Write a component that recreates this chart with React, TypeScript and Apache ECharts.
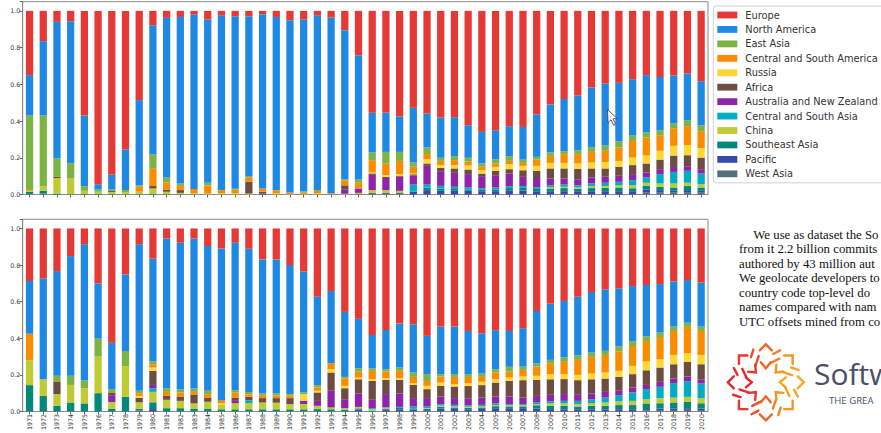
import React, { useEffect, useRef } from 'react';
import * as echarts from 'echarts';

const years = ['1971','1972','1973','1974','1975','1976','1977','1978','1979','1980','1981','1982','1983','1984','1985','1986','1987','1988','1989','1990','1991','1992','1993','1994','1995','1996','1997','1998','1999','2000','2001','2002','2003','2004','2005','2006','2007','2008','2009','2010','2011','2012','2013','2014','2015','2016','2017','2018','2019','2020'];

const yTicks = [0, 0.2, 0.4, 0.6, 0.8, 1.0];

// Regions, listed from the bottom of the stack to its top
const regions = ['West Asia','Pacific','Southeast Asia','China','Central and South Asia','Australia and New Zealand','Africa','Russia','Central and South America','East Asia','North America','Europe'];
const regionColors = ['#546e7a','#3949ab','#00897b','#c0ca33','#00acc1','#8e24aa','#6d4c41','#fdd835','#fb8c00','#7cb342','#1e88e5','#e53935'];

// ---------- top chart ----------
const topWestAsia = [0.003,0.005,0,0,0,0,0,0,0,0, 0,0,0.001,0,0,0,0,0,0,0, 0,0,0,0,0.002,0.009,0.011,0.011,0,0, 0,0,0,0,0,0,0,0,0,0, 0,0,0,0,0,0.01,0.01,0.01,0.01,0.01];
const topPacific = [0,0,0,0,0,0,0,0,0,0, 0,0,0,0,0,0,0,0.005,0,0, 0,0,0,0,0,0,0,0,0.015,0.024, 0.02,0.02,0.02,0.018,0.018,0.023,0.022,0.018,0.018,0.018, 0.018,0.018,0.018,0.018,0.018,0.018,0.014,0.01,0.014,0.01];
const topSoutheastAsia = [0.012,0.015,0.005,0.002,0.003,0.003,0.002,0.002,0.002,0.003, 0.002,0.002,0,0,0,0,0,0,0,0, 0,0,0,0,0,0,0,0,0,0.014, 0.012,0.01,0.008,0.007,0.01,0.012,0.014,0.012,0.015,0.017, 0.014,0.017,0.018,0.02,0.016,0.02,0.018,0.018,0.022,0.018];
const topChina = [0.005,0.025,0.085,0.085,0.017,0.012,0.012,0.012,0.013,0.03, 0.013,0.007,0.005,0.005,0.006,0.006,0.005,0,0.006,0.003, 0.003,0.006,0.002,0.004,0.007,0.015,0.013,0.009,0,0, 0,0,0,0,0,0,0,0,0.007,0.007, 0.006,0.01,0.01,0.012,0.016,0.016,0.018,0.022,0.018,0.018];
const topCentralSouthAsia = [0,0,0,0,0,0,0,0,0,0, 0,0,0,0,0,0,0,0,0,0, 0,0,0,0,0,0,0,0,0.039,0.016, 0.015,0.012,0.01,0.008,0.01,0.01,0.01,0.01,0.01,0.012, 0.012,0.015,0.018,0.019,0.028,0.029,0.051,0.063,0.065,0.058];
const topAustraliaNZ = [0,0,0,0,0,0,0,0,0,0, 0,0,0,0,0,0,0,0,0,0, 0,0,0,0.022,0.024,0.083,0.066,0.077,0.049,0.102, 0.08,0.076,0.073,0.067,0.067,0.069,0.05,0.05,0.037,0.033, 0.033,0.033,0.033,0.033,0.033,0.027,0.027,0.027,0.025,0.024];
const topAfrica = [0,0,0.006,0,0,0,0.005,0,0,0.013, 0.012,0.015,0,0,0,0,0.065,0.01,0,0, 0,0,0,0.024,0,0.008,0.006,0.005,0.007,0.013, 0.018,0.024,0.025,0.014,0.024,0.024,0.036,0.039,0.055,0.055, 0.056,0.049,0.045,0.049,0.049,0.049,0.052,0.062,0.06,0.063];
const topRussia = [0,0,0,0,0,0,0,0,0,0, 0,0,0,0,0,0,0,0,0,0, 0,0,0,0,0,0.005,0.009,0.009,0.004,0.023, 0.015,0.018,0.022,0.018,0.022,0.027,0.024,0.027,0.03,0.03, 0.03,0.032,0.034,0.032,0.041,0.043,0.048,0.053,0.055,0.051];
const topCentralSouthAmerica = [0.005,0,0,0,0,0,0,0,0.027,0.094, 0.038,0.023,0.024,0.044,0.018,0.02,0.024,0.018,0.018,0.008, 0.009,0.013,0.005,0.028,0.031,0.067,0.064,0.072,0.037,0.028, 0.023,0.027,0.022,0.019,0.018,0.018,0.016,0.034,0.038,0.048, 0.051,0.058,0.062,0.073,0.091,0.098,0.085,0.096,0.103,0.093];
const topEastAsia = [0.405,0.385,0.1,0.083,0.025,0.012,0.008,0.01,0.008,0.078, 0.028,0.013,0,0.015,0,0.005,0.006,0,0,0, 0.004,0.005,0,0.005,0.018,0.042,0.063,0.049,0.023,0.036, 0.017,0.022,0.02,0.018,0.023,0.026,0.018,0.015,0.019,0.016, 0.021,0.026,0.029,0.033,0.029,0.029,0.027,0.026,0.033,0.031];
const topNorthAmerica = [0.22,0.405,0.744,0.774,0.385,0.029,0.08,0.221,0.464,0.704, 0.869,0.907,0.95,0.889,0.952,0.94,0.871,0.949,0.943,0.938, 0.937,0.952,0.957,0.812,0.677,0.216,0.214,0.194,0.298,0.185, 0.219,0.212,0.177,0.172,0.158,0.163,0.178,0.231,0.261,0.284, 0.299,0.325,0.337,0.319,0.307,0.311,0.29,0.261,0.254,0.241];
const topEurope = [0.35,0.165,0.06,0.056,0.57,0.944,0.893,0.755,0.486,0.078, 0.038,0.033,0.02,0.047,0.024,0.029,0.029,0.018,0.033,0.051, 0.047,0.024,0.036,0.105,0.241,0.555,0.554,0.574,0.528,0.559, 0.581,0.579,0.623,0.659,0.65,0.628,0.632,0.564,0.51,0.48, 0.46,0.417,0.396,0.392,0.372,0.35,0.36,0.352,0.341,0.383];

// ---------- bottom chart ----------
const botWestAsia = [0,0,0,0,0,0,0,0,0,0, 0,0,0,0,0,0,0,0,0,0, 0,0,0,0,0,0,0,0,0,0, 0,0,0,0,0,0,0,0,0,0, 0,0,0,0,0,0.007,0.008,0.008,0.009,0.008];
const botPacific = [0,0,0,0,0,0,0,0,0.005,0.013, 0,0,0,0,0,0,0,0,0,0, 0,0,0,0,0.01,0,0.01,0.012,0.01,0.007, 0.016,0.014,0.012,0.014,0.018,0.018,0.018,0.016,0.013,0.012, 0.012,0.012,0.012,0.012,0.012,0.006,0.008,0.008,0.009,0.008];
const botSoutheastAsia = [0.144,0.085,0.031,0.049,0.044,0.1,0.016,0.08,0.01,0.037, 0.018,0.018,0.016,0.016,0.012,0.012,0.012,0.012,0.012,0.012, 0.012,0.013,0.012,0.01,0.007,0.005,0.006,0.008,0.007,0.008, 0.01,0.008,0.008,0.008,0.011,0.01,0.01,0.018,0.018,0.019, 0.015,0.019,0.019,0.023,0.023,0.031,0.029,0.033,0.035,0.029];
const botChina = [0.136,0.091,0.064,0.096,0.083,0.2,0.036,0.169,0.035,0.057, 0.046,0.04,0.028,0.037,0.027,0.033,0.033,0.037,0.036,0.028, 0.029,0.018,0.01,0.008,0.008,0.007,0.006,0,0,0.004, 0.006,0.006,0.006,0.006,0.006,0.006,0.006,0.006,0.013,0.013, 0.013,0.014,0.018,0.021,0.023,0.023,0.028,0.027,0.027,0.028];
const botCentralSouthAsia = [0,0,0,0,0,0,0,0,0,0.02, 0,0,0,0,0,0,0.016,0,0,0, 0,0,0,0,0,0.006,0,0.005,0.01,0.008, 0.008,0.008,0.008,0.008,0.009,0.006,0.006,0.009,0.011,0.014, 0.018,0.022,0.027,0.033,0.046,0.055,0.062,0.079,0.085,0.08];
const botAustraliaNZ = [0,0,0,0,0,0,0.037,0,0,0.018, 0,0,0,0,0,0.013,0,0,0,0, 0.018,0.027,0.094,0.049,0.073,0.046,0.073,0.073,0.046,0.046, 0.042,0.037,0.038,0.04,0.038,0.042,0.036,0.036,0.036,0.037, 0.033,0.031,0.031,0.027,0.027,0.023,0.027,0.025,0.026,0.023];
const botAfrica = [0,0,0.069,0,0,0,0.015,0,0.025,0.077, 0.021,0.024,0.049,0.023,0,0.018,0.02,0.024,0.025,0.033, 0,0.046,0.097,0.06,0.078,0.103,0.078,0.075,0.073,0.049, 0.058,0.063,0.067,0.068,0.076,0.085,0.095,0.088,0.085,0.082, 0.08,0.078,0.073,0.073,0.073,0.08,0.078,0.078,0.08,0.082];
const botRussia = [0,0,0,0,0,0,0,0,0.01,0.018, 0,0,0,0,0.006,0,0,0,0,0, 0.036,0.009,0.018,0.013,0.009,0.009,0.009,0.009,0.009,0.018, 0.018,0.013,0.015,0.018,0.018,0.018,0.02,0.022,0.028,0.027, 0.029,0.031,0.033,0.033,0.045,0.048,0.045,0.051,0.047,0.051];
const botCentralSouthAmerica = [0.145,0,0,0,0,0,0,0,0.015,0.018, 0.022,0.022,0.014,0.019,0.017,0.027,0.013,0.016,0.015,0.013, 0,0.018,0.033,0.041,0.033,0.046,0.036,0.04,0.034,0.027, 0.033,0.04,0.035,0.027,0.037,0.033,0.036,0.05,0.06,0.067, 0.082,0.091,0.096,0.107,0.109,0.112,0.122,0.131,0.144,0.131];
const botEastAsia = [0,0,0.031,0.05,0.042,0.098,0.018,0.082,0.013,0.015, 0.02,0.016,0.018,0.018,0,0.013,0.013,0.009,0.01,0.009, 0.009,0.013,0,0.008,0.018,0.014,0.013,0.018,0.024,0.037, 0.013,0.015,0.015,0.018,0.018,0.026,0.018,0.017,0.018,0.024, 0.025,0.024,0.022,0.026,0.026,0.026,0.024,0.024,0.023,0.024];
const botNorthAmerica = [0.288,0.551,0.572,0.654,0.744,0.302,0.253,0.418,0.8,0.562, 0.818,0.802,0.82,0.791,0.829,0.806,0.782,0.733,0.733,0.705, 0.661,0.483,0.394,0.355,0.271,0.182,0.214,0.24,0.263,0.209, 0.26,0.26,0.236,0.22,0.213,0.196,0.21,0.287,0.307,0.309, 0.32,0.331,0.336,0.318,0.301,0.28,0.265,0.247,0.233,0.24];
const botEurope = [0.287,0.273,0.233,0.151,0.087,0.3,0.625,0.251,0.087,0.165, 0.055,0.078,0.055,0.096,0.109,0.078,0.111,0.169,0.169,0.2, 0.235,0.373,0.342,0.456,0.493,0.582,0.555,0.52,0.524,0.587, 0.536,0.536,0.56,0.573,0.556,0.56,0.545,0.451,0.411,0.396, 0.373,0.347,0.333,0.327,0.315,0.309,0.304,0.289,0.282,0.296];

const topSeriesData = [topWestAsia, topPacific, topSoutheastAsia, topChina, topCentralSouthAsia, topAustraliaNZ, topAfrica, topRussia, topCentralSouthAmerica, topEastAsia, topNorthAmerica, topEurope];
const botSeriesData = [botWestAsia, botPacific, botSoutheastAsia, botChina, botCentralSouthAsia, botAustraliaNZ, botAfrica, botRussia, botCentralSouthAmerica, botEastAsia, botNorthAmerica, botEurope];

const paragraphLines = [
  'We use as dataset the So',
  'from it 2.2 billion commits',
  'authored by 43 million aut',
  'We geolocate developers to',
  'country code top-level do',
  'names compared with nam',
  'UTC offsets mined from co',
];

const SANS = "'DejaVu Sans', sans-serif";

function buildLogo(): any[] {
  const cx = 765.8;
  const cy = 382.3;
  const els: any[] = [];
  const lerp = (a: number, b: number, t: number) => Math.round(a + (b - a) * t);
  const colorAt = (ang: number) => {
    const t = (1 + Math.cos(ang)) / 2;
    return `rgb(${lerp(228, 248, t)},${lerp(38, 168, t)},${lerp(45, 35, t)})`;
  };
  const pt = (r: number, ang: number, off: number) => {
    const ux = Math.cos(ang), uy = -Math.sin(ang);
    const px = -uy, py = ux;
    return [cx + ux * r + px * off, cy + uy * r + py * off];
  };
  const stroke = (points: number[][], col: string) => ({
    type: 'polyline', silent: true, shape: { points }, style: { stroke: col, lineWidth: 2.4, fill: null, lineCap: 'round' },
  });
  for (let k = 0; k < 8; k++) {
    const a = (k * Math.PI) / 4;
    const col = colorAt(a);
    // outer chevron pointing outward
    els.push(stroke([pt(32, a, -6), pt(38, a, 0), pt(32, a, 6)], col));
    // inner chevron pointing inward
    els.push(stroke([pt(20, a, -5), pt(14, a, 0), pt(20, a, 5)], col));
    // slashes between neighbouring arms
    const b = a + Math.PI / 8;
    const colb = colorAt(b);
    els.push(stroke([pt(19, b, -3.5), pt(27, b, 3.5)], colb));
    els.push(stroke([pt(29, b, -4), pt(35, b, 1)], colb));
  }
  return els;
}

export default function App() {
  const ref = useRef<HTMLDivElement>(null);

  useEffect(() => {
    document.body.style.margin = '0';
    if (!ref.current) return;
    const chart = echarts.init(ref.current, null, { renderer: 'svg' });

    const yFormatter = (v: number) => {
      for (const t of yTicks) {
        if (Math.abs(v - t) < 1e-6) return t.toFixed(1);
      }
      return '';
    };

    const yAxisBase = (gridIndex: number) => ({
      type: 'value',
      gridIndex,
      min: 0,
      max: 1.05,
      interval: 0.2,
      splitLine: { show: false },
      axisLine: { show: true, lineStyle: { color: '#8a8a8a', width: 1 } },
      axisTick: { show: true, length: 3, lineStyle: { color: '#666' } },
      axisLabel: { formatter: yFormatter, fontSize: 6.3, color: '#333', fontFamily: SANS, margin: 2.5 },
    });

    const series: any[] = [];
    regions.forEach((name, i) => {
      series.push({
        type: 'bar', name, stack: 'top', xAxisIndex: 0, yAxisIndex: 0,
        data: topSeriesData[i], barWidth: '53%',
        itemStyle: { color: regionColors[i] }, emphasis: { disabled: true },
      });
    });
    regions.forEach((name, i) => {
      series.push({
        type: 'bar', name, stack: 'bottom', xAxisIndex: 1, yAxisIndex: 1,
        data: botSeriesData[i], barWidth: '53%',
        itemStyle: { color: regionColors[i] }, emphasis: { disabled: true },
      });
    });

    const graphics: any[] = [];
    paragraphLines.forEach((line, i) => {
      graphics.push({
        type: 'text', silent: true,
        x: i === 0 ? 753.3 : 739, y: 235 + i * 14.45,
        style: { text: line, fill: '#111', fontSize: 12.8, fontFamily: "'Liberation Serif', serif", verticalAlign: 'middle', align: 'left' },
      });
    });
    graphics.push(...buildLogo());
    graphics.push({
      type: 'text', silent: true, x: 814, y: 373.5,
      style: { text: 'Softw', fill: '#4a4e6a', fontSize: 30, fontFamily: "'Open Sans', sans-serif", verticalAlign: 'middle', align: 'left' },
    });
    graphics.push({
      type: 'text', silent: true, x: 829, y: 400.5,
      style: { text: 'THE GREA', fill: '#4a4e6a', fontSize: 9.6, fontFamily: "'Open Sans', sans-serif", verticalAlign: 'middle', align: 'left' },
    });
    // mouse pointer
    graphics.push({
      type: 'polygon', silent: true,
      shape: { points: [[607.5, 109.5], [608, 122.5], [611, 119.8], [613.6, 125.2], [615.6, 124.2], [613, 118.8], [617.2, 118.6]] },
      style: { fill: '#ffffff', stroke: '#333', lineWidth: 0.8 },
      z: 100,
    });

    const option: any = {
      animation: false,
      backgroundColor: '#ffffff',
      grid: [
        { left: 22.7, top: 1.7, width: 685.3, height: 192.8, show: true, borderColor: '#8a8a8a', borderWidth: 1, backgroundColor: 'transparent' },
        { left: 22.7, top: 219.3, width: 685.3, height: 193.2, show: true, borderColor: '#8a8a8a', borderWidth: 1, backgroundColor: 'transparent' },
      ],
      xAxis: [
        {
          type: 'category', gridIndex: 0, data: years,
          axisLine: { show: true, lineStyle: { color: '#8a8a8a' } },
          axisTick: { show: true, alignWithLabel: true, interval: 0, length: 3, lineStyle: { color: '#666' } },
          axisLabel: { show: false },
        },
        {
          type: 'category', gridIndex: 1, data: years,
          axisLine: { show: true, lineStyle: { color: '#8a8a8a' } },
          axisTick: { show: true, alignWithLabel: true, interval: 0, length: 3, lineStyle: { color: '#666' } },
          axisLabel: { interval: 0, rotate: 90, fontSize: 6.3, color: '#333', fontFamily: SANS, margin: 2.5 },
        },
      ],
      yAxis: [yAxisBase(0), yAxisBase(1)],
      legend: {
        orient: 'vertical',
        left: 713.3,
        top: 6,
        data: [...regions].reverse(),
        icon: 'rect',
        itemWidth: 20,
        itemHeight: 6.8,
        itemGap: 2.44,
        selectedMode: false,
        backgroundColor: '#ffffff',
        borderColor: '#d0d0d0',
        borderWidth: 1,
        borderRadius: 3,
        padding: [3, 12, 3, 4],
        textStyle: { fontSize: 9.8, fontFamily: SANS, color: '#333', lineHeight: 12, padding: [0, 0, 0, 3] },
        z: 10,
      },
      graphic: { elements: graphics },
      series,
    };
    chart.setOption(option);
    return () => chart.dispose();
  }, []);

  return <div ref={ref} style={{ width: 881, height: 433 }} />;
}
